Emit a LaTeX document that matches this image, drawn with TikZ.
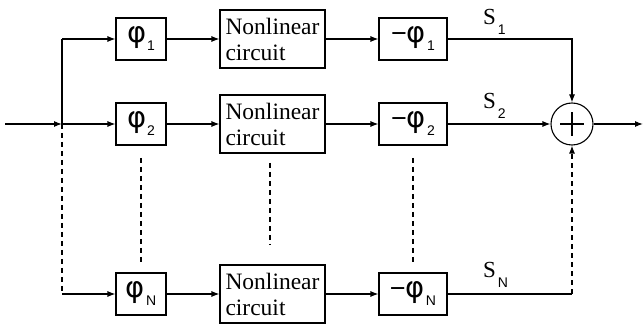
\documentclass[tikz,border=0pt]{standalone}
\usepackage{fontspec}
\setmainfont{Liberation Serif}
\newfontfamily\sansf{Liberation Sans}
\newfontfamily\phif{DejaVu Sans}
\usetikzlibrary{arrows.meta}
\tikzset{
  blk/.style={draw, line width=1.1pt, inner sep=0pt, minimum height=42pt},
  phibox/.style={blk, minimum width=50pt},
  negbox/.style={blk, minimum width=68pt},
  nlbox/.style={draw, line width=1.1pt, inner sep=0pt, minimum width=105pt, minimum height=58pt,
    align=left, font=\fontsize{23.5}{26}\selectfont},
  sumnode/.style={draw, circle, line width=1.1pt, minimum size=42pt, inner sep=0pt},
  conn/.style={line width=1.1pt, -{Latex[length=8pt,width=6pt]}},
  wire/.style={line width=1.1pt},
  dsh/.style={line width=1.1pt, dash pattern=on 5pt off 4pt},
  lab/.style={inner sep=0pt, font=\fontsize{23}{23}\selectfont}
}
\newcommand{\ph}[1]{{\phif\fontsize{29}{29}\selectfont φ\kern1pt\raisebox{-8pt}{\sansf\fontsize{14}{14}\selectfont #1}}}
\newcommand{\nph}[1]{{\sansf\fontsize{27}{27}\selectfont −\phif\fontsize{29}{29}\selectfont φ\kern1pt\raisebox{-8pt}{\sansf\fontsize{14}{14}\selectfont #1}}}
\newcommand{\sg}[1]{S\kern2pt\raisebox{-10pt}{\sansf\fontsize{14}{14}\selectfont #1}}
\begin{document}
\begin{tikzpicture}[x=1pt,y=-1pt]
\useasboundingbox (0,0) rectangle (643,331);
% coordinates
\coordinate (in) at (5,124);
\coordinate (split) at (62,124);
\coordinate (topc) at (62,39);
\coordinate (botc) at (62,294);
\coordinate (out) at (643,124);
% row 1
\node[phibox] (p1) at (141,39) {\ph{1}};
\node[nlbox] (n1) at (272.5,39) {Nonlinear\\circuit};
\node[negbox] (m1) at (413,39) {\nph{1}};
% row 2
\node[phibox] (p2) at (141,124) {\ph{2}};
\node[nlbox] (n2) at (272.5,124) {Nonlinear\\circuit};
\node[negbox] (m2) at (413,124) {\nph{2}};
% row N
\node[phibox] (pN) at (141,294) {\ph{N}};
\node[nlbox] (nN) at (272.5,294) {Nonlinear\\circuit};
\node[negbox] (mN) at (413,294) {\nph{N}};
% sum
\node[sumnode] (sum) at (572,124) {};
\draw[wire] ([xshift=-12pt]sum.center) -- ([xshift=12pt]sum.center);
\draw[wire] ([yshift=-12pt]sum.center) -- ([yshift=12pt]sum.center);
\coordinate (c1) at (572,39);
\coordinate (cN) at (572,294);
% labels
\node[lab, anchor=base west] (s1) at (483,25) {\sg{1}};
\node[lab, anchor=base west] (s2) at (483,109) {\sg{2}};
\node[lab, anchor=base west] (sN) at (483,278) {\sg{N}};
% input
\draw[conn] (in) -- (split);
\draw[wire] (split) -- (topc);
\draw[conn] (topc) -- (p1);
\draw[conn] (split) -- (p2);
\draw[dsh] (split) -- (botc);
\draw[conn] (botc) -- (pN);
% rows
\draw[conn] (p1) -- (n1);
\draw[conn] (n1) -- (m1);
\draw[conn] (p2) -- (n2);
\draw[conn] (n2) -- (m2);
\draw[conn] (pN) -- (nN);
\draw[conn] (nN) -- (mN);
% to sum
\draw[conn] (m1) -- (c1) -- (sum);
\draw[conn] (m2) -- (sum);
\draw[wire] (mN) -- (cN);
\draw[dsh, -{Latex[length=8pt,width=6pt]}] (cN) -- (sum);
\draw[conn] (sum) -- (out);
% vertical ellipsis dashes
\coordinate (d1a) at (141,158); \coordinate (d1b) at (141,262);
\coordinate (d2a) at (270,163); \coordinate (d2b) at (270,245);
\coordinate (d3a) at (413,158); \coordinate (d3b) at (413,262);
\draw[dsh] (d1a) -- (d1b);
\draw[dsh] (d2a) -- (d2b);
\draw[dsh] (d3a) -- (d3b);
\end{tikzpicture}
\end{document}
